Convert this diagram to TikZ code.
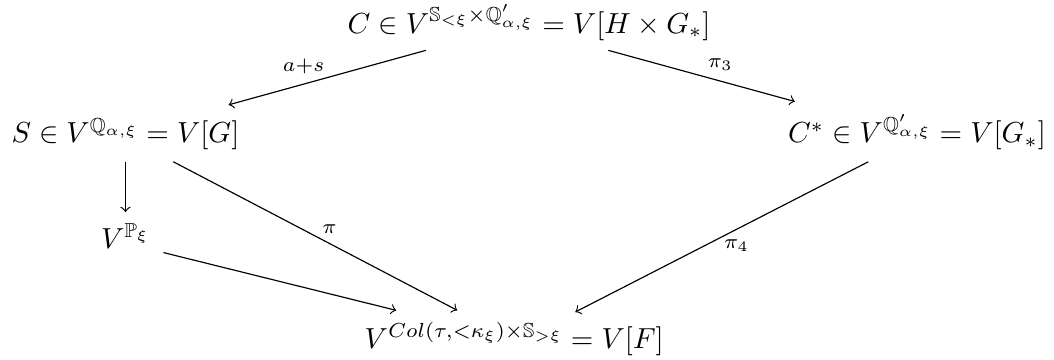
\documentclass[tikz,border=0pt]{standalone}
\usepackage{amssymb}
\usetikzlibrary{calc}

\begin{document}
\begin{tikzpicture}[
obj/.style={inner sep=0pt,anchor=base},
arr/.style={->},
lbl/.style={font=\scriptsize}
]
\useasboundingbox (0,0) rectangle (12.77,-4.36);

\node[obj] (c) at (6.41,-0.40) {$C \in V^{\mathbb{S}_{<\xi}\times\mathbb{Q}'_{\alpha,\xi}} = V[H\times G_*]$};
\node[obj] (s) at (1.52,-1.73) {$S \in V^{\mathbb{Q}_{\alpha,\xi}} = V[G]$};
\node[obj] (cs) at (11.11,-1.73) {$C^* \in V^{\mathbb{Q}'_{\alpha,\xi}} = V[G_*]$};
\node[obj] (vp) at (1.52,-3.01) {$V^{\mathbb{P}_\xi}$};
\node[obj] (vf) at (6.23,-4.22) {$V^{Col(\tau,<\kappa_\xi)\times\mathbb{S}_{>\xi}} = V[F]$};

\draw[arr] ($(c.base)+(-1.25,-0.21)$) -- node[lbl,pos=0.62,above] {$a{+}s$} ($(s.base)+(1.25,0.46)$);
\draw[arr] ($(c.base)+(0.96,-0.21)$) -- node[lbl,pos=0.6,above] {$\pi_3$} ($(cs.base)+(-1.48,0.50)$);
\draw[arr] ($(s.base)+(0,-0.23)$) -- ($(vp.base)+(0,0.44)$);
\draw[arr] ($(s.base)+(0.58,-0.23)$) -- node[lbl,pos=0.55,above] {$\pi$} ($(vf.base)+(-0.69,0.46)$);
\draw[arr] ($(vp.base)+(0.46,-0.05)$) -- ($(vf.base)+(-1.43,0.46)$);
\draw[arr] ($(cs.base)+(-0.59,-0.23)$) -- node[lbl,pos=0.45,below] {$\pi_4$} ($(vf.base)+(0.74,0.44)$);
\end{tikzpicture}
\end{document}
